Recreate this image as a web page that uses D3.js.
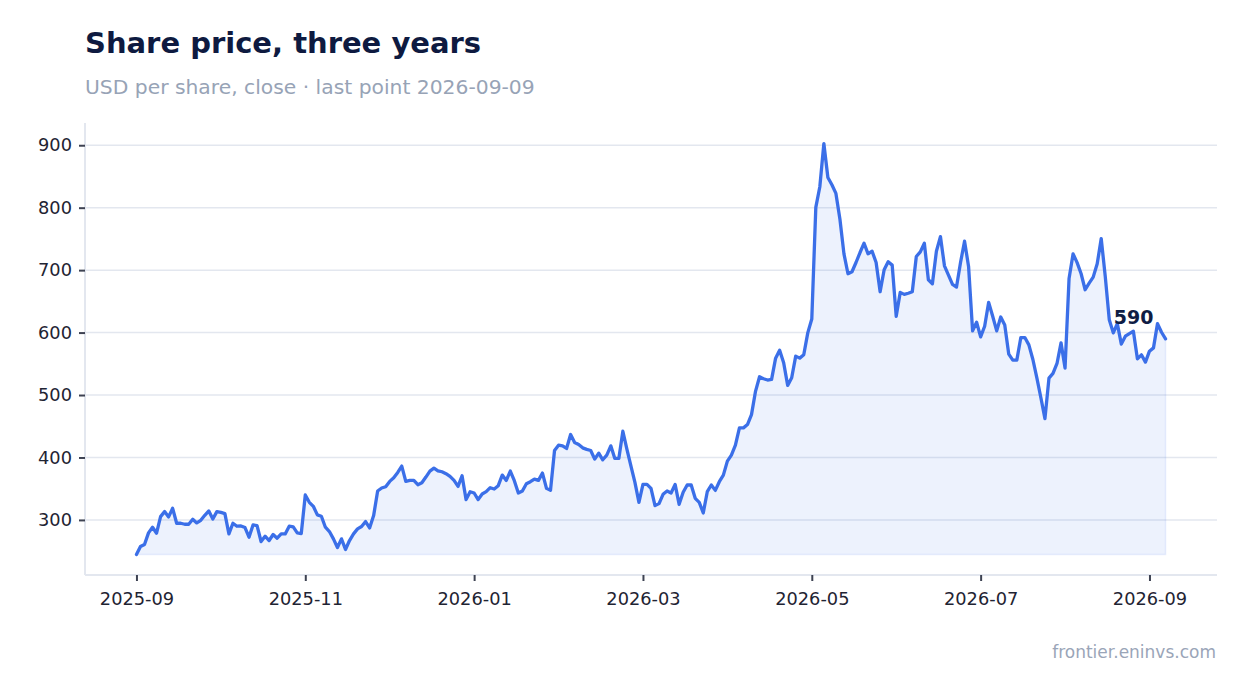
<!DOCTYPE html>
<html>
<head>
<meta charset="utf-8">
<script src="https://cdn.jsdelivr.net/npm/d3@7"></script>
<style>
  html, body { margin: 0; padding: 0; background: #ffffff; }
  svg { display: block; }
  text { font-family: "DejaVu Sans", sans-serif; }
</style>
</head>
<body>
<svg id="chart" width="1247" height="693"></svg>
<script>
// ---- data ----
const values = [
  244.7, 257.4, 260.6, 279.2, 288.3, 278.7, 305.3, 313.3, 304.8, 318.6,
  294.7, 294.7, 293.1, 293.1, 301.0, 295.2, 299.4, 307.4, 314.3, 301.6,
  313.3, 312.0, 310.1, 277.6, 294.7, 289.9, 290.4, 287.8, 272.3, 292.0,
  290.9, 265.4, 273.9, 267.0, 276.6, 270.7, 277.6, 277.6, 289.9, 288.8,
  279.2, 278.2, 339.9, 328.2, 321.8, 308.0, 305.9, 288.3, 281.4, 269.7,
  255.8, 269.7, 252.7, 267.0, 277.7, 285.6, 289.4, 297.3, 287.2, 306.9,
  346.3, 351.1, 353.2, 361.7, 367.5, 376.1, 386.2, 361.7, 363.3, 363.3,
  356.4, 359.6, 368.6, 378.2, 383.0, 378.7, 377.1, 374.0, 369.7, 363.3,
  353.7, 370.8, 332.5, 345.2, 343.1, 332.5, 341.5, 345.2, 351.6, 349.5,
  354.8, 371.8, 363.3, 378.2, 362.8, 343.1, 346.3, 358.0, 361.2, 365.4,
  363.3, 375.0, 350.5, 347.3, 411.2, 419.7, 418.6, 414.4, 436.7, 423.9,
  420.8, 415.4, 413.0, 411.2, 397.4, 406.9, 396.3, 403.7, 418.6, 398.4,
  398.4, 442.0, 413.3, 386.7, 360.1, 328.2, 356.9, 356.9, 350.5, 322.9,
  326.1, 341.0, 346.3, 343.1, 356.9, 325.0, 344.2, 355.9, 355.9, 334.6,
  328.2, 311.2, 345.2, 355.9, 347.3, 361.2, 371.8, 394.2, 403.7, 419.7,
  447.4, 447.4, 452.7, 468.6, 505.9, 529.3, 526.0, 524.0, 525.0, 559.0,
  571.8, 551.6, 515.4, 527.7, 562.3, 559.1, 564.4, 599.5, 621.8, 800.5,
  833.5, 902.7, 848.4, 836.7, 822.9, 781.4, 726.1, 694.2, 697.4, 712.2,
  728.2, 743.1, 726.1, 730.3, 712.2, 665.4, 700.5, 713.3, 708.0, 626.1,
  664.4, 661.2, 663.0, 665.4, 721.8, 729.3, 743.1, 684.6, 678.2, 730.3,
  753.7, 706.9, 692.0, 677.1, 672.9, 712.2, 746.3, 705.9, 602.7, 616.5,
  593.1, 610.1, 648.4, 626.1, 602.7, 625.0, 612.2, 565.4, 555.9, 555.9,
  592.0, 592.0, 580.3, 556.9, 527.1, 495.2, 462.2, 527.1, 534.6, 550.5,
  583.5, 543.1, 686.7, 726.1, 712.0, 694.2, 668.6, 679.2, 688.8, 710.1,
  750.5, 689.9, 620.7, 599.5, 614.4, 581.5, 594.2, 598.4, 602.1, 558.0,
  564.4, 552.7, 570.2, 575.5, 614.4, 600.5, 589.9
];
const xTickIndex  = [0, 42, 84, 126, 168, 210, 252];
const xTickLabels = ["2025-09", "2025-11", "2026-01", "2026-03", "2026-05", "2026-07", "2026-09"];
const yTickValues = [300, 400, 500, 600, 700, 800, 900];

const titleText    = "Share price, three years";
const subtitleText = "USD per share, close \u00b7 last point 2026-09-09";
const sourceText   = "frontier.eninvs.com";

// ---- layout ----
const W = 1247, H = 693;
const plot = { left: 85, right: 1217, top: 123, bottom: 575 };
const lineColor = "#3b6fe8";
const gridColor = "#e3e7ef";

const svg = d3.select("#chart");

const n = values.length;
const xPad = 0.05 * (n - 1);
const x = d3.scaleLinear()
  .domain([-xPad, n - 1 + xPad])
  .range([plot.left, plot.right]);

const vMin = d3.min(values), vMax = d3.max(values);
const yPad = 0.05 * (vMax - vMin);
const y = d3.scaleLinear()
  .domain([vMin - yPad, vMax + yPad])
  .range([plot.bottom, plot.top]);

// gridlines
svg.append("g")
  .selectAll("line")
  .data(yTickValues)
  .join("line")
  .attr("x1", plot.left).attr("x2", plot.right)
  .attr("y1", d => y(d)).attr("y2", d => y(d))
  .attr("stroke", gridColor).attr("stroke-width", 1.5);

// spines
svg.append("line")
  .attr("x1", plot.left).attr("x2", plot.left)
  .attr("y1", plot.top).attr("y2", plot.bottom)
  .attr("stroke", gridColor).attr("stroke-width", 2);
svg.append("line")
  .attr("x1", plot.left).attr("x2", plot.right)
  .attr("y1", plot.bottom).attr("y2", plot.bottom)
  .attr("stroke", gridColor).attr("stroke-width", 2);

// area
const area = d3.area()
  .x((d, i) => x(i))
  .y0(y(vMin))
  .y1(d => y(d));
svg.append("path")
  .datum(values)
  .attr("d", area)
  .attr("fill", lineColor)
  .attr("fill-opacity", 0.09)
  .attr("stroke", lineColor)
  .attr("stroke-opacity", 0.1)
  .attr("stroke-width", 1.5);

// line
const line = d3.line()
  .x((d, i) => x(i))
  .y(d => y(d));
svg.append("path")
  .datum(values)
  .attr("d", line)
  .attr("fill", "none")
  .attr("stroke", lineColor)
  .attr("stroke-width", 3.3)
  .attr("stroke-linejoin", "round")
  .attr("stroke-linecap", "round");

// x axis
const xAxis = d3.axisBottom(x)
  .tickValues(xTickIndex)
  .tickFormat((d, i) => xTickLabels[i])
  .tickSize(6)
  .tickPadding(11);
const gx = svg.append("g")
  .attr("transform", `translate(0,${plot.bottom})`)
  .call(xAxis);
gx.select(".domain").remove();
gx.selectAll(".tick line").attr("stroke", "#3d4252").attr("stroke-width", 2);
gx.selectAll(".tick text")
  .attr("fill", "#1f2433")
  .style("font-size", "17.8px")
  .style("font-family", "DejaVu Sans, sans-serif");

// y axis
const yAxis = d3.axisLeft(y)
  .tickValues(yTickValues)
  .tickFormat(d3.format("d"))
  .tickSize(6)
  .tickPadding(7);
const gy = svg.append("g")
  .attr("transform", `translate(${plot.left},0)`)
  .call(yAxis);
gy.select(".domain").remove();
gy.selectAll(".tick line").attr("stroke", "#3d4252").attr("stroke-width", 2);
gy.selectAll(".tick text")
  .attr("fill", "#1f2433")
  .style("font-size", "17.8px")
  .style("font-family", "DejaVu Sans, sans-serif");

// last value label
const lastI = n - 1;
svg.append("text")
  .attr("x", x(lastI) - 12)
  .attr("y", y(values[lastI]) - 15)
  .attr("text-anchor", "end")
  .attr("fill", "#0f1d45")
  .style("font-size", "19px")
  .style("font-weight", "bold")
  .text(d3.format("d")(Math.round(values[lastI])));

// titles
svg.append("text")
  .attr("x", 85).attr("y", 53)
  .attr("fill", "#0e1a40")
  .style("font-size", "29px")
  .style("font-weight", "bold")
  .text(titleText);
svg.append("text")
  .attr("x", 85).attr("y", 94)
  .attr("fill", "#97a3b6")
  .style("font-size", "20.3px")
  .text(subtitleText);

// source
svg.append("text")
  .attr("x", 1216).attr("y", 658)
  .attr("text-anchor", "end")
  .attr("fill", "#9aa5b8")
  .style("font-size", "17px")
  .text(sourceText);
</script>
</body>
</html>
